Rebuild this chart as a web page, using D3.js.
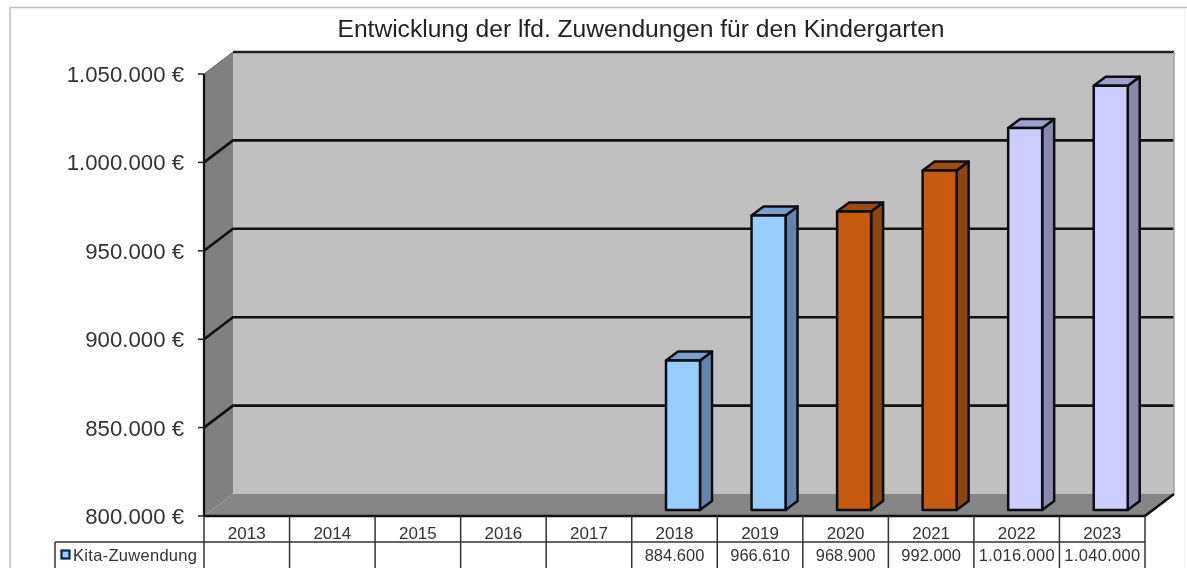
<!DOCTYPE html>
<html><head><meta charset="utf-8">
<script src="https://cdnjs.cloudflare.com/ajax/libs/d3/7.9.0/d3.min.js"></script>
<style>html,body{margin:0;padding:0;background:#fff;overflow:hidden}svg{display:block}text{font-family:"Liberation Sans",Arial,sans-serif}#root{filter:blur(0.45px)}</style>
</head><body><svg id="c" width="1187" height="568"><g id="root"></g></svg>
<script>
const titleText = "Entwicklung der lfd. Zuwendungen für den Kindergarten";
const years = ["2013","2014","2015","2016","2017","2018","2019","2020","2021","2022","2023"];
const values = [null,null,null,null,null,884600,966610,968900,992000,1016000,1040000];
const valueLabels = ["","","","","","884.600","966.610","968.900","992.000","1.016.000","1.040.000"];
const yTicks = [800000,850000,900000,950000,1000000,1050000];
const yTickLabels = ["800.000 €","850.000 €","900.000 €","950.000 €","1.000.000 €","1.050.000 €"];
const seriesName = "Kita-Zuwendung";
const faceColors = ["","","","","","#99ccff","#99ccff","#c55a11","#c55a11","#ccccff","#ccccff"];
const topColors  = ["","","","","","#7a9fca","#7a9fca","#9d4c10","#9d4c10","#a0a0cc","#a0a0cc"];
const sideColors = ["","","","","","#6682a8","#6682a8","#8a4510","#8a4510","#8888aa","#8888aa"];

const svg = d3.select("#root");
const x = d3.scaleBand().domain(years).range([204,1145]);
const y = d3.scaleLinear().domain([800000,1050000]).range([516,74]);
const depth = {x:29,y:-22};
const barDepth = {x:12,y:-9}, barOff = {x:8.5,y:-6};
const barW = 34;

// outer frame
svg.append("path").attr("d","M10,568V7.5H1187").attr("fill","none").attr("stroke","#bdbdbd").attr("stroke-width",1.5);
svg.append("path").attr("d","M1184.5,10V568").attr("fill","none").attr("stroke","#f0f0f0");
// title
svg.append("text").attr("x",641).attr("y",37).attr("text-anchor","middle").attr("font-size",24.6).attr("fill","#222").text(titleText);

const x0 = x.range()[0], x1 = x.range()[1], yB = y(800000), yT = y(1050000);
// back wall
svg.append("polygon").attr("fill","#c0c0c0").attr("points",[[x0+depth.x,yT+depth.y],[x1+depth.x,yT+depth.y],[x1+depth.x,yB+depth.y],[x0+depth.x,yB+depth.y]].join(" "));
// side wall
svg.append("polygon").attr("fill","#808080").attr("points",[[x0,yT],[x0+depth.x,yT+depth.y],[x0+depth.x,yB+depth.y],[x0,yB]].join(" "));
// floor
svg.append("polygon").attr("fill","#858585").attr("points",[[x0,yB],[x0+depth.x,yB+depth.y],[x1+depth.x,yB+depth.y],[x1,yB]].join(" "));
// grid
const gl = d3.line();
svg.append("g").selectAll("path").data(yTicks.slice(1,5)).join("path")
  .attr("fill","none").attr("stroke","#111").attr("stroke-width",2.6)
  .attr("d",v=>gl([[x0,y(v)],[x0+depth.x,y(v)+depth.y],[x1+depth.x,y(v)+depth.y]]));
svg.append("path").attr("fill","none").attr("stroke","#222").attr("stroke-width",2.4)
  .attr("d",gl([[x0+depth.x,yT+depth.y],[x1+depth.x,yT+depth.y]]));
svg.append("path").attr("fill","none").attr("stroke","#a0a0a0").attr("stroke-width",1.5)
  .attr("d",gl([[x1+depth.x,yT+depth.y],[x1+depth.x,yB+depth.y]]));
svg.append("path").attr("fill","none").attr("stroke","#666").attr("stroke-width",1)
  .attr("d",gl([[x0,yT],[x0+depth.x,yT+depth.y]]));
// floor right edge + front axis lines
svg.append("path").attr("fill","none").attr("stroke","#111").attr("stroke-width",2.6)
  .attr("d",gl([[x0,yB],[x1,yB],[x1+depth.x,yB+depth.y]]));
svg.append("path").attr("fill","none").attr("stroke","#111").attr("stroke-width",2.2)
  .attr("d",gl([[x0,yT],[x0,yB]]));
// y ticks + labels
const yg = svg.append("g");
yg.selectAll("line").data(yTicks).join("line").attr("x1",x0-6).attr("x2",x0).attr("y1",d=>y(d)).attr("y2",d=>y(d)).attr("stroke","#222").attr("stroke-width",1.5);
yg.selectAll("text").data(yTicks).join("text").attr("x",184).attr("y",d=>y(d)+8).attr("text-anchor","end").attr("font-size",22.2).attr("fill","#333").text((d,i)=>yTickLabels[i]);

// bars
const bars = years.map((yr,i)=>({yr,v:values[i],i})).filter(d=>d.v!==null);
const bg = svg.append("g").attr("stroke","#0d0d14").attr("stroke-width",2.5).attr("stroke-linejoin","round");
const g = bg.selectAll("g").data(bars).join("g");
const L = d=>x(d.yr)+x.bandwidth()/2-barW/2+barOff.x;
const T = d=>y(d.v)+barOff.y, B = yB+barOff.y;
g.append("polygon").attr("fill",d=>sideColors[d.i]).attr("points",d=>{const r=L(d)+barW;return [[r,T(d)],[r+barDepth.x,T(d)+barDepth.y],[r+barDepth.x,B+barDepth.y],[r,B]].join(" ");});
g.append("polygon").attr("fill",d=>topColors[d.i]).attr("points",d=>{const l=L(d),r=l+barW,t=T(d);return [[l,t],[l+barDepth.x,t+barDepth.y],[r+barDepth.x,t+barDepth.y],[r,t]].join(" ");});
g.append("rect").attr("fill",d=>faceColors[d.i]).attr("x",L).attr("y",T).attr("width",barW).attr("height",d=>B-T(d));

// data table
const rowH1 = 542, tb = 570, lx = 55;
const tg = svg.append("g").attr("stroke","#333").attr("stroke-width",1.5);
tg.append("line").attr("x1",lx).attr("x2",x1).attr("y1",rowH1).attr("y2",rowH1);
tg.append("line").attr("x1",lx).attr("x2",lx).attr("y1",rowH1).attr("y2",tb);
tg.selectAll("line.v").data(years.map(d=>x(d)).concat([x1])).join("line").attr("class","v").attr("x1",d=>d).attr("x2",d=>d).attr("y1",yB).attr("y2",tb);
const cx = d=>x(d)+x.bandwidth()/2;
svg.append("g").selectAll("text").data(years).join("text").attr("x",cx).attr("y",539).attr("text-anchor","middle").attr("font-size",17).attr("fill","#333").text(d=>d);
svg.append("g").selectAll("text").data(years).join("text").attr("x",cx).attr("y",561).attr("text-anchor","middle").attr("font-size",16.5).attr("textLength",(d,i)=>valueLabels[i].length>7?76:null).attr("fill","#333").text((d,i)=>valueLabels[i]);
svg.append("rect").attr("x",61.5).attr("y",550.5).attr("width",8).attr("height",8).attr("fill","#99ccff").attr("stroke","#0b2540").attr("stroke-width",2.2);
svg.append("text").attr("x",73).attr("y",561).attr("font-size",16.5).attr("fill","#333").attr("textLength",124).text(seriesName);
</script></body></html>
